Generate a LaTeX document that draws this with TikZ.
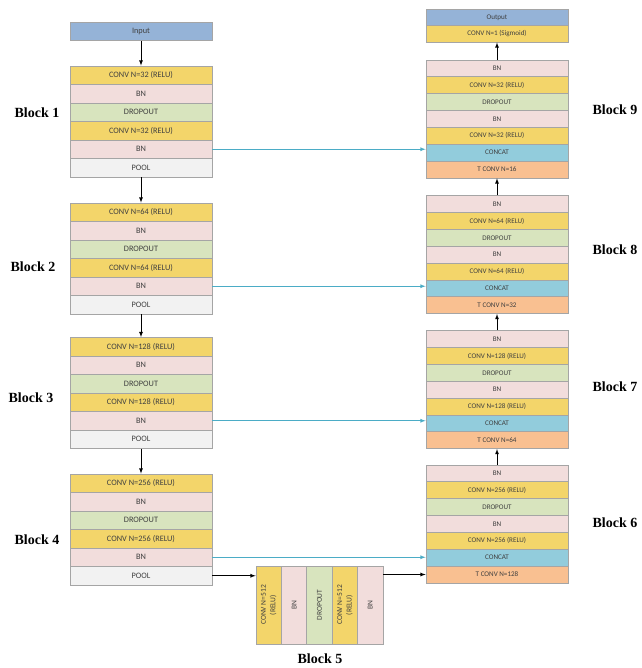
\documentclass[tikz,border=0pt]{standalone}
\usepackage{fontspec}
\setmainfont{Carlito}
\newfontfamily\blockfont{Liberation Serif}
\definecolor{convcol}{RGB}{243,213,106}
\definecolor{bncol}{RGB}{242,221,220}
\definecolor{dropcol}{RGB}{216,228,190}
\definecolor{poolcol}{RGB}{242,242,242}
\definecolor{iocol}{RGB}{149,179,215}
\definecolor{catcol}{RGB}{146,204,220}
\definecolor{tconvcol}{RGB}{249,192,145}
\definecolor{skipcol}{RGB}{75,172,198}
\definecolor{edgecol}{RGB}{165,165,165}
\tikzstyle{layer}=[rectangle,draw=edgecol,line width=0.8pt,inner sep=0pt,minimum width=142pt,minimum height=18.5pt,text=black!75,font=\fontsize{8.3}{9.5}\selectfont]
\tikzstyle{ulayer}=[layer,minimum height=16.85pt,font=\fontsize{7.1}{8.5}\selectfont]
\tikzstyle{vlayer}=[layer,minimum width=25.4pt,minimum height=78pt,font=\fontsize{7.5}{9.5}\selectfont]
\tikzstyle{conv}=[fill=convcol]
\tikzstyle{bn}=[fill=bncol]
\tikzstyle{drop}=[fill=dropcol]
\tikzstyle{pool}=[fill=poolcol]
\tikzstyle{io}=[fill=iocol]
\tikzstyle{cat}=[fill=catcol]
\tikzstyle{tconv}=[fill=tconvcol]
\tikzstyle{blocklabel}=[font=\blockfont\fontsize{14}{16}\selectfont\bfseries]
\tikzstyle{flow}=[-latex,line width=0.8pt,black]
\tikzstyle{skip}=[-latex,line width=0.8pt,skipcol]

\begin{document}
\begin{tikzpicture}[x=1pt,y=-1pt]
\useasboundingbox (0,0) rectangle (641,668);

% encoder
\node (in) at (141,31.3) [layer,io] {Input};

\node (c11) at (141,75.25) [layer,conv] {CONV N=32 (RELU)};
\node (bn11) at (141,93.75) [layer,bn] {BN};
\node (d1) at (141,112.25) [layer,drop] {DROPOUT};
\node (c12) at (141,130.75) [layer,conv] {CONV N=32 (RELU)};
\node (bn12) at (141,149.25) [layer,bn] {BN};
\node (p1) at (141,167.75) [layer,pool] {POOL};

\node (c21) at (141,212.25) [layer,conv] {CONV N=64 (RELU)};
\node (bn21) at (141,230.75) [layer,bn] {BN};
\node (d2) at (141,249.25) [layer,drop] {DROPOUT};
\node (c22) at (141,267.75) [layer,conv] {CONV N=64 (RELU)};
\node (bn22) at (141,286.25) [layer,bn] {BN};
\node (p2) at (141,304.75) [layer,pool] {POOL};

\node (c31) at (141,346.75) [layer,conv] {CONV N=128 (RELU)};
\node (bn31) at (141,365.25) [layer,bn] {BN};
\node (d3) at (141,383.75) [layer,drop] {DROPOUT};
\node (c32) at (141,402.25) [layer,conv] {CONV N=128 (RELU)};
\node (bn32) at (141,420.75) [layer,bn] {BN};
\node (p3) at (141,439.25) [layer,pool] {POOL};

\node (c41) at (141,483.25) [layer,conv] {CONV N=256 (RELU)};
\node (bn41) at (141,501.75) [layer,bn] {BN};
\node (d4) at (141,520.25) [layer,drop] {DROPOUT};
\node (c42) at (141,538.75) [layer,conv] {CONV N=256 (RELU)};
\node (bn42) at (141,557.25) [layer,bn] {BN};
\node (p4) at (141,575.75) [layer,pool] {POOL};

% bottleneck
\node (k1) at (268.7,605) [vlayer,conv] {\rotatebox{90}{\begin{tabular}{@{}c@{}}CONV N=512\\(RELU)\end{tabular}}};
\node (k2) at (294.1,605) [vlayer,bn] {\rotatebox{90}{BN}};
\node (k3) at (319.5,605) [vlayer,drop] {\rotatebox{90}{DROPOUT}};
\node (k4) at (344.9,605) [vlayer,conv] {\rotatebox{90}{\begin{tabular}{@{}c@{}}CONV N=512\\(RELU)\end{tabular}}};
\node (k5) at (370.3,605) [vlayer,bn] {\rotatebox{90}{BN}};

% decoder
\node (tc6) at (497,574.5) [ulayer,tconv] {T CONV N=128};
\node (cat6) at (497,557.7) [ulayer,cat] {CONCAT};
\node (c61) at (497,540.8) [ulayer,conv] {CONV N=256 (RELU)};
\node (bn61) at (497,524.0) [ulayer,bn] {BN};
\node (d6) at (497,507.1) [ulayer,drop] {DROPOUT};
\node (c62) at (497,490.3) [ulayer,conv] {CONV N=256 (RELU)};
\node (bn62) at (497,473.4) [ulayer,bn] {BN};

\node (tc7) at (497,440.2) [ulayer,tconv] {T CONV N=64};
\node (cat7) at (497,423.4) [ulayer,cat] {CONCAT};
\node (c71) at (497,406.5) [ulayer,conv] {CONV N=128 (RELU)};
\node (bn71) at (497,389.7) [ulayer,bn] {BN};
\node (d7) at (497,372.8) [ulayer,drop] {DROPOUT};
\node (c72) at (497,356.0) [ulayer,conv] {CONV N=128 (RELU)};
\node (bn72) at (497,339.1) [ulayer,bn] {BN};

\node (tc8) at (497,305.2) [ulayer,tconv] {T CONV N=32};
\node (cat8) at (497,288.4) [ulayer,cat] {CONCAT};
\node (c81) at (497,271.5) [ulayer,conv] {CONV N=64 (RELU)};
\node (bn81) at (497,254.7) [ulayer,bn] {BN};
\node (d8) at (497,237.8) [ulayer,drop] {DROPOUT};
\node (c82) at (497,221.0) [ulayer,conv] {CONV N=64 (RELU)};
\node (bn82) at (497,204.1) [ulayer,bn] {BN};

\node (tc9) at (497,169.5) [ulayer,tconv] {T CONV N=16};
\node (cat9) at (497,152.7) [ulayer,cat] {CONCAT};
\node (c91) at (497,135.8) [ulayer,conv] {CONV N=32 (RELU)};
\node (bn91) at (497,119.0) [ulayer,bn] {BN};
\node (d9) at (497,102.1) [ulayer,drop] {DROPOUT};
\node (c92) at (497,85.3) [ulayer,conv] {CONV N=32 (RELU)};
\node (bn92) at (497,68.4) [ulayer,bn] {BN};

\node (c10) at (497,33.8) [ulayer,conv,minimum height=16.5pt] {CONV N=1 (Sigmoid)};
\node (out) at (497,17.3) [ulayer,io,minimum height=16.5pt] {Output};

% block names
\node (b1) at (37,113) [blocklabel] {Block 1};
\node (b2) at (33,267) [blocklabel] {Block 2};
\node (b3) at (31,398) [blocklabel] {Block 3};
\node (b4) at (37,540) [blocklabel] {Block 4};
\node (b5) at (320,659) [blocklabel] {Block 5};
\node (b6) at (615,523) [blocklabel] {Block 6};
\node (b7) at (615,387) [blocklabel] {Block 7};
\node (b8) at (615,250) [blocklabel] {Block 8};
\node (b9) at (615,110) [blocklabel] {Block 9};

% main path
\draw [flow] (in) -- (c11);
\draw [flow] (p1) -- (c21);
\draw [flow] (p2) -- (c31);
\draw [flow] (p3) -- (c41);
\draw [flow] (p4.east) -- (p4.east -| k1.west);
\draw [flow] (k5.east |- tc6.west) -- (tc6.west);
\draw [flow] (bn62) -- (tc7);
\draw [flow] (bn72) -- (tc8);
\draw [flow] (bn82) -- (tc9);
\draw [flow] (bn92) -- (c10);

% skip connections
\draw [skip] (bn12.east) -- (bn12.east -| cat9.west);
\draw [skip] (bn22.east) -- (bn22.east -| cat8.west);
\draw [skip] (bn32.east) -- (bn32.east -| cat7.west);
\draw [skip] (bn42.east) -- (bn42.east -| cat6.west);
\end{tikzpicture}
\end{document}
